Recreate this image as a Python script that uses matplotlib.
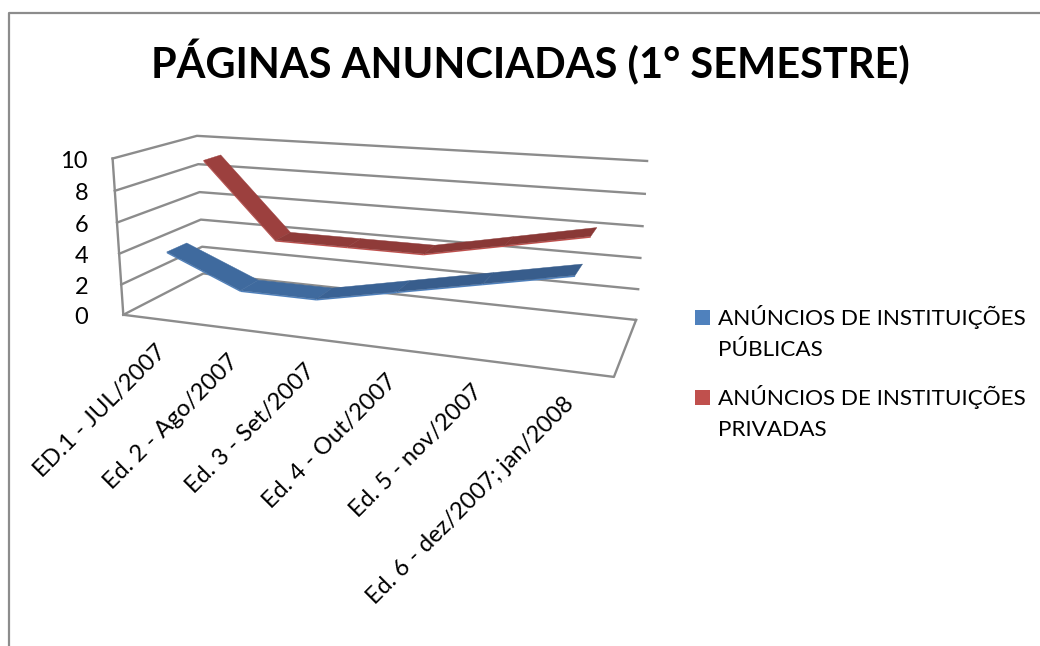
import matplotlib
matplotlib.use('Agg')
import matplotlib.pyplot as plt
from matplotlib.patches import Polygon, Rectangle
import numpy as np

title = 'PÁGINAS ANUNCIADAS (1° SEMESTRE)'
categories = ['ED.1 - JUL/2007', 'Ed. 2 - Ago/2007', 'Ed. 3 - Set/2007',
              'Ed. 4 - Out/2007', 'Ed. 5 - nov/2007', 'Ed. 6 - dez/2007; jan/2008']
publicas = [4, 2, 2, 3, 4, 5]
privadas = [9, 4, 4, 4, 5, 6]
y_ticks = [0, 2, 4, 6, 8, 10]
legend_labels = ['ANÚNCIOS DE INSTITUIÇÕES\nPÚBLICAS', 'ANÚNCIOS DE INSTITUIÇÕES\nPRIVADAS']

# pixel positions of the 3d box corners, used to fit the camera
front_left = [(122, 315), (122, 284), (119, 254), (118, 222), (115, 191), (112, 159)]
back_left = [(204, 274), (202, 247), (201, 219), (199, 192), (198, 164), (197, 136)]
back_right = [(636, 320), (638, 289), (640, 258), (643, 226), (645, 194), (647, 161)]
front_right_floor = (614, 377)


def fit_camera():
    world = []
    pix = []
    for i, v in enumerate(y_ticks):
        world += [(0, v, 0), (0, v, 1), (1, v, 1)]
        pix += [front_left[i], back_left[i], back_right[i]]
    world.append((1, 0, 0))
    pix.append(front_right_floor)
    rows = []
    rhs = []
    for (x, y, z), (u, v) in zip(world, pix):
        rows.append([x, y, z, 1, 0, 0, 0, 0, -u * x, -u * y, -u * z])
        rows.append([0, 0, 0, 0, x, y, z, 1, -v * x, -v * y, -v * z])
        rhs += [u, v]
    p = np.linalg.lstsq(np.array(rows, float), np.array(rhs, float), rcond=None)[0]
    return np.append(p, 1).reshape(3, 4)


cam = fit_camera()


def project(x, y, z):
    q = cam @ np.array([x, y, z, 1.0])
    return q[0] / q[2], q[1] / q[2]


def ribbon(ax, values, z0, z1, top_colors, edge_color):
    n = len(values)
    xs = [(i + 0.5) / n for i in range(n)]
    for i in range(n - 1):
        front = [project(xs[i], values[i] - 0.09, z0), project(xs[i + 1], values[i + 1] - 0.09, z0),
                 project(xs[i + 1], values[i + 1], z0), project(xs[i], values[i], z0)]
        ax.add_patch(Polygon(front, fc=edge_color, ec='none', zorder=3))
        top = [project(xs[i], values[i], z0), project(xs[i + 1], values[i + 1], z0),
               project(xs[i + 1], values[i + 1], z1), project(xs[i], values[i], z1)]
        ax.add_patch(Polygon(top, fc=top_colors[i], ec=top_colors[i], lw=0.3, zorder=4))


plt.rcParams['font.family'] = ['Lato', 'DejaVu Sans']
fig = plt.figure(figsize=(10.4, 6.46), dpi=100)
ax = fig.add_axes([0, 0, 1, 1])
ax.set_xlim(0, 1040)
ax.set_ylim(646, 0)
ax.axis('off')

# outer chart border, cut off at right and bottom
ax.plot([9, 9, 1040], [646, 13, 13], color='#8c8c8c', lw=1.6)

grid_color = '#8c8c8c'
for v in y_ticks:
    pts = [project(0, v, 0), project(0, v, 1), project(1, v, 1)]
    ax.plot([p[0] for p in pts], [p[1] for p in pts], color=grid_color, lw=1.7, zorder=1)
pts = [project(0, 0, 0), project(1, 0, 0), project(1, 0, 1)]
ax.plot([p[0] for p in pts], [p[1] for p in pts], color=grid_color, lw=1.7, zorder=1)
pts = [project(0, 0, 0), project(0, 10, 0)]
ax.plot([p[0] for p in pts], [p[1] for p in pts], color=grid_color, lw=1.7, zorder=1)

ribbon(ax, privadas, 0.64, 0.87, ['#9c403e', '#8f3b39', '#8f3b39', '#893836', '#893836'], '#c0504d')
ribbon(ax, publicas, 0.14, 0.38, ['#3f6a9e', '#3f6a9e', '#3a6294', '#385d8c', '#385d8c'], '#4f81bd')

ax.text(530, 62, title, ha='center', va='center', fontsize=29.9, fontweight='bold', color='black')

for i, v in enumerate(y_ticks):
    px, py = project(0, v, 0)
    ax.text(88, py + 3, str(v), ha='right', va='center', fontsize=17, color='black')

for i, lab in enumerate(categories):
    px, py = project((i + 0.5) / len(categories), 0, 0)
    ax.text(px - 3, py + 22, lab, rotation=45, rotation_mode='anchor', ha='right', va='top',
            fontsize=17, color='black')

for lab, c, y in zip(legend_labels, ['#4f81bd', '#c0504d'], [317, 397]):
    ax.add_patch(Rectangle((695, y - 7), 15, 15, fc=c, ec='none'))
    first, second = lab.split('\n')
    ax.text(718, y, first, ha='left', va='center', fontsize=16.2, color='black')
    ax.text(718, y + 33, second, ha='left', va='center', fontsize=16.2, color='black')

fig.savefig('out.png', dpi=100)
